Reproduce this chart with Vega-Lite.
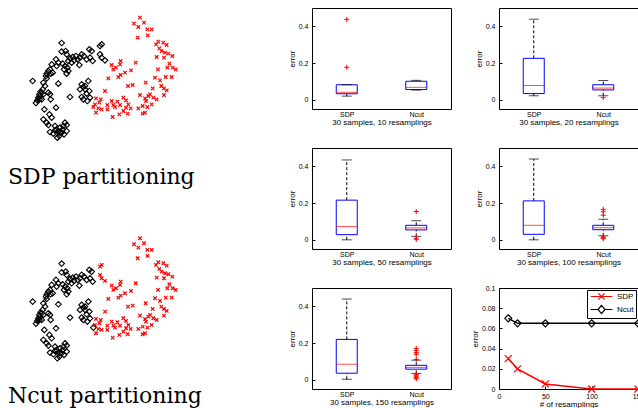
{
  "$schema": "https://vega.github.io/schema/vega-lite/v6.json",
  "padding": {"top": 7, "left": 0, "right": 0, "bottom": 0},
  "background": "white",
  "config": {
    "view": {"stroke": "black", "strokeWidth": 1},
    "axis": {"labelFont": "Liberation Sans", "titleFont": "Liberation Sans", "labelFontSize": 7, "titleFontSize": 8, "titleFontWeight": "normal", "labelColor": "black", "titleColor": "black", "domain": false, "grid": false, "tickColor": "black", "tickSize": -3, "labelPadding": 7, "titlePadding": 2, "labelFlush": false, "labelOverlap": false},
    "axisX": {"labelAngle": 0, "titlePadding": 1},
    "axisDiscrete": {"ticks": false, "labelPadding": 1}
  },
  "datasets": {
    "scatter": [
      {"x":185,"y":126,"sdp":"A","ncut":"A"},{"x":185,"y":152,"sdp":"A","ncut":"A"},{"x":197,"y":150,"sdp":"A","ncut":"A"},{"x":200,"y":160,"sdp":"A","ncut":"A"},{"x":210,"y":172,"sdp":"A","ncut":"A"},{"x":218,"y":168,"sdp":"A","ncut":"A"},{"x":222,"y":178,"sdp":"A","ncut":"A"},{"x":228,"y":165,"sdp":"A","ncut":"A"},{"x":233,"y":175,"sdp":"A","ncut":"A"},{"x":238,"y":192,"sdp":"A","ncut":"A"},{"x":245,"y":160,"sdp":"A","ncut":"A"},{"x":252,"y":165,"sdp":"A","ncut":"A"},{"x":260,"y":175,"sdp":"A","ncut":"A"},{"x":268,"y":145,"sdp":"A","ncut":"A"},{"x":275,"y":150,"sdp":"A","ncut":"A"},{"x":270,"y":170,"sdp":"A","ncut":"A"},{"x":278,"y":180,"sdp":"A","ncut":"A"},
      {"x":300,"y":135,"sdp":"A","ncut":"B"},{"x":305,"y":130,"sdp":"A","ncut":"B"},{"x":300,"y":160,"sdp":"A","ncut":"B"},{"x":305,"y":170,"sdp":"A","ncut":"B"},{"x":315,"y":178,"sdp":"A","ncut":"B"},
      {"x":188,"y":188,"sdp":"A","ncut":"A"},{"x":195,"y":195,"sdp":"A","ncut":"A"},{"x":192,"y":205,"sdp":"A","ncut":"A"},{"x":202,"y":200,"sdp":"A","ncut":"A"},{"x":205,"y":210,"sdp":"A","ncut":"A"},{"x":200,"y":218,"sdp":"A","ncut":"A"},{"x":175,"y":185,"sdp":"A","ncut":"A"},{"x":168,"y":175,"sdp":"A","ncut":"A"},{"x":170,"y":195,"sdp":"A","ncut":"A"},{"x":155,"y":190,"sdp":"A","ncut":"A"},{"x":150,"y":205,"sdp":"A","ncut":"A"},{"x":145,"y":210,"sdp":"A","ncut":"A"},{"x":140,"y":218,"sdp":"A","ncut":"A"},{"x":152,"y":218,"sdp":"A","ncut":"A"},{"x":158,"y":215,"sdp":"A","ncut":"A"},{"x":138,"y":225,"sdp":"A","ncut":"A"},
      {"x":98,"y":240,"sdp":"A","ncut":"A"},{"x":130,"y":245,"sdp":"A","ncut":"A"},{"x":135,"y":255,"sdp":"A","ncut":"A"},{"x":128,"y":265,"sdp":"A","ncut":"A"},{"x":122,"y":272,"sdp":"A","ncut":"A"},{"x":118,"y":280,"sdp":"A","ncut":"A"},{"x":115,"y":290,"sdp":"A","ncut":"A"},{"x":112,"y":298,"sdp":"A","ncut":"A"},{"x":108,"y":306,"sdp":"A","ncut":"A"},{"x":120,"y":285,"sdp":"A","ncut":"A"},{"x":125,"y":295,"sdp":"A","ncut":"A"},{"x":145,"y":275,"sdp":"A","ncut":"A"},{"x":150,"y":280,"sdp":"A","ncut":"A"},{"x":152,"y":295,"sdp":"A","ncut":"A"},{"x":175,"y":248,"sdp":"A","ncut":"A"},{"x":125,"y":275,"sdp":"A","ncut":"A"},{"x":130,"y":280,"sdp":"A","ncut":"A"},{"x":118,"y":295,"sdp":"A","ncut":"A"},{"x":140,"y":232,"sdp":"A","ncut":"A"},{"x":205,"y":180,"sdp":"A","ncut":"A"},{"x":215,"y":185,"sdp":"A","ncut":"A"},{"x":240,"y":170,"sdp":"A","ncut":"A"},
      {"x":245,"y":250,"sdp":"A","ncut":"A"},{"x":250,"y":258,"sdp":"A","ncut":"A"},{"x":255,"y":265,"sdp":"A","ncut":"A"},{"x":265,"y":240,"sdp":"A","ncut":"A"},{"x":268,"y":270,"sdp":"A","ncut":"A"},{"x":260,"y":278,"sdp":"A","ncut":"A"},{"x":245,"y":288,"sdp":"A","ncut":"A"},{"x":250,"y":295,"sdp":"A","ncut":"A"},{"x":262,"y":300,"sdp":"A","ncut":"A"},{"x":270,"y":290,"sdp":"A","ncut":"A"},{"x":210,"y":288,"sdp":"A","ncut":"A"},{"x":255,"y":255,"sdp":"A","ncut":"A"},{"x":240,"y":265,"sdp":"A","ncut":"A"},
      {"x":133,"y":325,"sdp":"A","ncut":"A"},{"x":168,"y":320,"sdp":"A","ncut":"A"},{"x":148,"y":340,"sdp":"A","ncut":"A"},{"x":155,"y":350,"sdp":"A","ncut":"A"},{"x":130,"y":355,"sdp":"A","ncut":"A"},{"x":140,"y":365,"sdp":"A","ncut":"A"},{"x":145,"y":372,"sdp":"A","ncut":"A"},{"x":165,"y":375,"sdp":"A","ncut":"A"},{"x":170,"y":385,"sdp":"A","ncut":"A"},{"x":175,"y":392,"sdp":"A","ncut":"A"},{"x":180,"y":380,"sdp":"A","ncut":"A"},{"x":190,"y":375,"sdp":"A","ncut":"A"},{"x":195,"y":365,"sdp":"A","ncut":"A"},{"x":200,"y":372,"sdp":"A","ncut":"A"},{"x":185,"y":395,"sdp":"A","ncut":"A"},{"x":178,"y":405,"sdp":"A","ncut":"A"},{"x":172,"y":410,"sdp":"A","ncut":"A"},{"x":150,"y":393,"sdp":"A","ncut":"A"},{"x":160,"y":398,"sdp":"A","ncut":"A"},{"x":192,"y":400,"sdp":"A","ncut":"A"},{"x":200,"y":390,"sdp":"A","ncut":"A"},{"x":180,"y":395,"sdp":"A","ncut":"A"},{"x":188,"y":385,"sdp":"A","ncut":"A"},{"x":165,"y":388,"sdp":"A","ncut":"A"},
      {"x":420,"y":50,"sdp":"B","ncut":"B"},{"x":402,"y":68,"sdp":"B","ncut":"B"},{"x":432,"y":65,"sdp":"B","ncut":"B"},{"x":415,"y":78,"sdp":"B","ncut":"B"},{"x":442,"y":85,"sdp":"B","ncut":"B"},{"x":455,"y":85,"sdp":"B","ncut":"B"},{"x":443,"y":103,"sdp":"B","ncut":"B"},{"x":413,"y":110,"sdp":"B","ncut":"B"},
      {"x":475,"y":122,"sdp":"B","ncut":"B"},{"x":468,"y":130,"sdp":"B","ncut":"B"},{"x":490,"y":125,"sdp":"B","ncut":"B"},{"x":500,"y":132,"sdp":"B","ncut":"B"},{"x":478,"y":142,"sdp":"B","ncut":"B"},{"x":485,"y":150,"sdp":"B","ncut":"B"},{"x":495,"y":155,"sdp":"B","ncut":"B"},{"x":505,"y":158,"sdp":"B","ncut":"B"},{"x":517,"y":165,"sdp":"B","ncut":"B"},{"x":470,"y":168,"sdp":"B","ncut":"B"},{"x":492,"y":170,"sdp":"B","ncut":"B"},{"x":508,"y":188,"sdp":"B","ncut":"B"},{"x":502,"y":200,"sdp":"B","ncut":"B"},{"x":518,"y":200,"sdp":"B","ncut":"B"},{"x":527,"y":205,"sdp":"B","ncut":"B"},{"x":474,"y":205,"sdp":"B","ncut":"B"},{"x":465,"y":230,"sdp":"B","ncut":"B"},{"x":480,"y":238,"sdp":"B","ncut":"B"},{"x":497,"y":228,"sdp":"B","ncut":"B"},{"x":515,"y":228,"sdp":"B","ncut":"B"},{"x":484,"y":255,"sdp":"B","ncut":"B"},{"x":492,"y":262,"sdp":"B","ncut":"B"},{"x":500,"y":268,"sdp":"B","ncut":"B"},{"x":458,"y":262,"sdp":"B","ncut":"B"},{"x":437,"y":245,"sdp":"B","ncut":"B"},
      {"x":407,"y":185,"sdp":"B","ncut":"B"},{"x":393,"y":208,"sdp":"B","ncut":"B"},{"x":375,"y":215,"sdp":"B","ncut":"B"},{"x":362,"y":222,"sdp":"B","ncut":"B"},{"x":355,"y":228,"sdp":"B","ncut":"B"},{"x":362,"y":180,"sdp":"B","ncut":"B"},{"x":360,"y":190,"sdp":"B","ncut":"B"},{"x":348,"y":200,"sdp":"B","ncut":"B"},{"x":340,"y":205,"sdp":"B","ncut":"B"},{"x":335,"y":192,"sdp":"B","ncut":"B"},{"x":325,"y":232,"sdp":"B","ncut":"B"},{"x":384,"y":255,"sdp":"B","ncut":"B"},{"x":398,"y":252,"sdp":"B","ncut":"B"},{"x":315,"y":270,"sdp":"B","ncut":"B"},
      {"x":288,"y":292,"sdp":"B","ncut":"B"},{"x":302,"y":295,"sdp":"B","ncut":"B"},{"x":298,"y":305,"sdp":"B","ncut":"B"},{"x":285,"y":310,"sdp":"B","ncut":"B"},{"x":295,"y":322,"sdp":"B","ncut":"B"},{"x":288,"y":335,"sdp":"B","ncut":"B"},{"x":305,"y":325,"sdp":"B","ncut":"B"},{"x":322,"y":325,"sdp":"B","ncut":"B"},{"x":322,"y":312,"sdp":"B","ncut":"B"},{"x":335,"y":300,"sdp":"B","ncut":"B"},{"x":340,"y":312,"sdp":"B","ncut":"B"},{"x":345,"y":318,"sdp":"B","ncut":"B"},{"x":352,"y":302,"sdp":"B","ncut":"B"},{"x":360,"y":312,"sdp":"B","ncut":"B"},{"x":370,"y":290,"sdp":"B","ncut":"B"},{"x":378,"y":298,"sdp":"B","ncut":"B"},{"x":385,"y":310,"sdp":"B","ncut":"B"},{"x":378,"y":320,"sdp":"B","ncut":"B"},{"x":392,"y":322,"sdp":"B","ncut":"B"},{"x":370,"y":330,"sdp":"B","ncut":"B"},{"x":358,"y":340,"sdp":"B","ncut":"B"},{"x":383,"y":338,"sdp":"B","ncut":"B"},{"x":338,"y":348,"sdp":"B","ncut":"B"},{"x":415,"y":322,"sdp":"B","ncut":"B"},{"x":428,"y":315,"sdp":"B","ncut":"B"},{"x":442,"y":318,"sdp":"B","ncut":"B"},{"x":435,"y":335,"sdp":"B","ncut":"B"},{"x":428,"y":338,"sdp":"B","ncut":"B"},{"x":420,"y":282,"sdp":"B","ncut":"B"},{"x":435,"y":292,"sdp":"B","ncut":"B"},{"x":438,"y":300,"sdp":"B","ncut":"B"},{"x":445,"y":285,"sdp":"B","ncut":"B"},{"x":450,"y":280,"sdp":"B","ncut":"B"},{"x":460,"y":290,"sdp":"B","ncut":"B"},{"x":470,"y":295,"sdp":"B","ncut":"B"},{"x":455,"y":310,"sdp":"B","ncut":"B"},{"x":492,"y":282,"sdp":"B","ncut":"B"},{"x":280,"y":318,"sdp":"B","ncut":"A"}
    ],
    "boxes": [
      {"panel":10,"method":"SDP","lo":0.02,"q1":0.033,"med":0.041,"q3":0.082,"hi":0.082},
      {"panel":10,"method":"Ncut","lo":0.053,"q1":0.056,"med":0.068,"q3":0.101,"hi":0.106},
      {"panel":20,"method":"SDP","lo":0.022,"q1":0.034,"med":0.078,"q3":0.226,"hi":0.439},
      {"panel":20,"method":"Ncut","lo":0.022,"q1":0.054,"med":0.064,"q3":0.082,"hi":0.105},
      {"panel":50,"method":"SDP","lo":0.0,"q1":0.028,"med":0.072,"q3":0.216,"hi":0.435},
      {"panel":50,"method":"Ncut","lo":0.019,"q1":0.054,"med":0.065,"q3":0.079,"hi":0.104},
      {"panel":100,"method":"SDP","lo":0.0,"q1":0.03,"med":0.079,"q3":0.212,"hi":0.44},
      {"panel":100,"method":"Ncut","lo":0.022,"q1":0.055,"med":0.066,"q3":0.079,"hi":0.112},
      {"panel":150,"method":"SDP","lo":0.003,"q1":0.036,"med":0.085,"q3":0.22,"hi":0.44},
      {"panel":150,"method":"Ncut","lo":0.035,"q1":0.058,"med":0.068,"q3":0.079,"hi":0.107}
    ],
    "outliers": [
      {"panel":10,"method":"SDP","v":0.177},{"panel":10,"method":"SDP","v":0.438},
      {"panel":20,"method":"Ncut","v":0.012},
      {"panel":50,"method":"Ncut","v":0.154},{"panel":50,"method":"Ncut","v":0.009},{"panel":50,"method":"Ncut","v":0.003},
      {"panel":100,"method":"Ncut","v":0.166},{"panel":100,"method":"Ncut","v":0.153},{"panel":100,"method":"Ncut","v":0.134},{"panel":100,"method":"Ncut","v":0.016},{"panel":100,"method":"Ncut","v":0.011},{"panel":100,"method":"Ncut","v":0.006},
      {"panel":150,"method":"Ncut","v":0.171},{"panel":150,"method":"Ncut","v":0.16},{"panel":150,"method":"Ncut","v":0.149},{"panel":150,"method":"Ncut","v":0.139},{"panel":150,"method":"Ncut","v":0.111},{"panel":150,"method":"Ncut","v":0.028},{"panel":150,"method":"Ncut","v":0.022},{"panel":150,"method":"Ncut","v":0.016},{"panel":150,"method":"Ncut","v":0.011},{"panel":150,"method":"Ncut","v":0.006}
    ],
    "lines": [
      {"n":10,"series":"SDP","err":0.03},{"n":20,"series":"SDP","err":0.02},{"n":50,"series":"SDP","err":0.005},{"n":100,"series":"SDP","err":0.0},{"n":150,"series":"SDP","err":0.0},
      {"n":10,"series":"Ncut","err":0.07},{"n":20,"series":"Ncut","err":0.065},{"n":50,"series":"Ncut","err":0.065},{"n":100,"series":"Ncut","err":0.065},{"n":150,"series":"Ncut","err":0.065}
    ]
  },
  "spacing": 57,
  "hconcat": [
    {
      "spacing": 13,
      "vconcat": [
        {
          "width": 230, "height": 150,
          "view": {"stroke": null},
          "title": {"text": "SDP partitioning", "orient": "bottom", "anchor": "start", "dx": 8, "offset": 9, "font": "DejaVu Serif", "fontSize": 22, "fontWeight": "normal", "color": "black"},
          "data": {"name": "scatter"},
          "encoding": {
            "x": {"field": "x", "type": "quantitative", "scale": {"domain": [0, 690]}, "axis": null},
            "y": {"field": "y", "type": "quantitative", "scale": {"domain": [471, 21]}, "axis": null}
          },
          "layer": [
            {"transform": [{"filter": "datum.sdp == 'A'"}], "mark": {"type": "point", "shape": "diamond", "filled": false, "size": 32, "color": "black", "strokeWidth": 1.1, "opacity": 1}},
            {"transform": [{"filter": "datum.sdp == 'B'"}], "mark": {"type": "point", "shape": "M-1,-1L1,1M-1,1L1,-1", "filled": false, "size": 12, "color": "red", "strokeWidth": 1.2, "opacity": 1}}
          ]
        },
        {
          "width": 230, "height": 170,
          "view": {"stroke": null},
          "title": {"text": "Ncut partitioning", "orient": "bottom", "anchor": "start", "dx": 8, "offset": 15, "font": "DejaVu Serif", "fontSize": 22, "fontWeight": "normal", "color": "black"},
          "data": {"name": "scatter"},
          "encoding": {
            "x": {"field": "x", "type": "quantitative", "scale": {"domain": [0, 690]}, "axis": null},
            "y": {"field": "y", "type": "quantitative", "scale": {"domain": [448.2, -61.8]}, "axis": null}
          },
          "layer": [
            {"transform": [{"filter": "datum.ncut == 'A'"}], "mark": {"type": "point", "shape": "diamond", "filled": false, "size": 32, "color": "black", "strokeWidth": 1.1, "opacity": 1}},
            {"transform": [{"filter": "datum.ncut == 'B'"}], "mark": {"type": "point", "shape": "M-1,-1L1,1M-1,1L1,-1", "filled": false, "size": 12, "color": "red", "strokeWidth": 1.2, "opacity": 1}}
          ]
        }
      ]
    },
    {
      "spacing": 20,
      "vconcat": [
        {
          "spacing": 22,
          "hconcat": [
            {
              "width": 139, "height": 101,
              "data": {"name": "boxes"},
              "transform": [{"filter": "datum.panel == 10"}],
              "encoding": {"x": {"field": "method", "type": "nominal", "scale": {"type": "point", "domain": ["SDP", "Ncut"], "padding": 0.5}, "axis": {"title": "30 samples, 10 resamplings"}}},
              "layer": [
                {"mark": {"type": "rule", "strokeDash": [3, 2], "color": "black"}, "encoding": {"y": {"field": "lo", "type": "quantitative", "scale": {"domain": [-0.003, 0.463]}, "axis": {"title": "error", "values": [0, 0.1, 0.2, 0.3, 0.4], "format": "~g"}}, "y2": {"field": "q1"}}},
                {"mark": {"type": "rule", "strokeDash": [3, 2], "color": "black"}, "encoding": {"y": {"field": "q3", "type": "quantitative"}, "y2": {"field": "hi"}}},
                {"mark": {"type": "bar", "size": 21, "fill": "white", "stroke": "blue", "strokeWidth": 1}, "encoding": {"y": {"field": "q1", "type": "quantitative"}, "y2": {"field": "q3"}}},
                {"mark": {"type": "tick", "size": 21, "thickness": 1, "color": "red"}, "encoding": {"y": {"field": "med", "type": "quantitative"}}},
                {"mark": {"type": "tick", "size": 10, "thickness": 1, "color": "black"}, "encoding": {"y": {"field": "lo", "type": "quantitative"}}},
                {"mark": {"type": "tick", "size": 10, "thickness": 1, "color": "black"}, "encoding": {"y": {"field": "hi", "type": "quantitative"}}},
                {"data": {"name": "outliers"}, "transform": [{"filter": "datum.panel == 10"}], "mark": {"type": "point", "shape": "M-1,0L1,0M0,-1L0,1", "size": 25, "color": "red", "filled": false, "strokeWidth": 1, "opacity": 1}, "encoding": {"y": {"field": "v", "type": "quantitative"}}}
              ]
            },
            {
              "width": 139, "height": 101,
              "data": {"name": "boxes"},
              "transform": [{"filter": "datum.panel == 20"}],
              "encoding": {"x": {"field": "method", "type": "nominal", "scale": {"type": "point", "domain": ["SDP", "Ncut"], "padding": 0.5}, "axis": {"title": "30 samples, 20 resamplings"}}},
              "layer": [
                {"mark": {"type": "rule", "strokeDash": [3, 2], "color": "black"}, "encoding": {"y": {"field": "lo", "type": "quantitative", "scale": {"domain": [-0.006, 0.465]}, "axis": {"title": "error", "values": [0, 0.1, 0.2, 0.3, 0.4], "format": "~g"}}, "y2": {"field": "q1"}}},
                {"mark": {"type": "rule", "strokeDash": [3, 2], "color": "black"}, "encoding": {"y": {"field": "q3", "type": "quantitative"}, "y2": {"field": "hi"}}},
                {"mark": {"type": "bar", "size": 21, "fill": "white", "stroke": "blue", "strokeWidth": 1}, "encoding": {"y": {"field": "q1", "type": "quantitative"}, "y2": {"field": "q3"}}},
                {"mark": {"type": "tick", "size": 21, "thickness": 1, "color": "red"}, "encoding": {"y": {"field": "med", "type": "quantitative"}}},
                {"mark": {"type": "tick", "size": 10, "thickness": 1, "color": "black"}, "encoding": {"y": {"field": "lo", "type": "quantitative"}}},
                {"mark": {"type": "tick", "size": 10, "thickness": 1, "color": "black"}, "encoding": {"y": {"field": "hi", "type": "quantitative"}}},
                {"data": {"name": "outliers"}, "transform": [{"filter": "datum.panel == 20"}], "mark": {"type": "point", "shape": "M-1,0L1,0M0,-1L0,1", "size": 25, "color": "red", "filled": false, "strokeWidth": 1, "opacity": 1}, "encoding": {"y": {"field": "v", "type": "quantitative"}}}
              ]
            }
          ]
        },
        {
          "spacing": 16,
          "vconcat": [
            {
              "spacing": 22,
              "hconcat": [
                {
                  "width": 139, "height": 101,
                  "data": {"name": "boxes"},
                  "transform": [{"filter": "datum.panel == 50"}],
                  "encoding": {"x": {"field": "method", "type": "nominal", "scale": {"type": "point", "domain": ["SDP", "Ncut"], "padding": 0.5}, "axis": {"title": "30 samples, 50 resamplings"}}},
                  "layer": [
                    {"mark": {"type": "rule", "strokeDash": [3, 2], "color": "black"}, "encoding": {"y": {"field": "lo", "type": "quantitative", "scale": {"domain": [-0.016, 0.456]}, "axis": {"title": "error", "values": [0, 0.1, 0.2, 0.3, 0.4], "format": "~g"}}, "y2": {"field": "q1"}}},
                    {"mark": {"type": "rule", "strokeDash": [3, 2], "color": "black"}, "encoding": {"y": {"field": "q3", "type": "quantitative"}, "y2": {"field": "hi"}}},
                    {"mark": {"type": "bar", "size": 21, "fill": "white", "stroke": "blue", "strokeWidth": 1}, "encoding": {"y": {"field": "q1", "type": "quantitative"}, "y2": {"field": "q3"}}},
                    {"mark": {"type": "tick", "size": 21, "thickness": 1, "color": "red"}, "encoding": {"y": {"field": "med", "type": "quantitative"}}},
                    {"mark": {"type": "tick", "size": 10, "thickness": 1, "color": "black"}, "encoding": {"y": {"field": "lo", "type": "quantitative"}}},
                    {"mark": {"type": "tick", "size": 10, "thickness": 1, "color": "black"}, "encoding": {"y": {"field": "hi", "type": "quantitative"}}},
                    {"data": {"name": "outliers"}, "transform": [{"filter": "datum.panel == 50"}], "mark": {"type": "point", "shape": "M-1,0L1,0M0,-1L0,1", "size": 25, "color": "red", "filled": false, "strokeWidth": 1, "opacity": 1}, "encoding": {"y": {"field": "v", "type": "quantitative"}}}
                  ]
                },
                {
                  "width": 139, "height": 101,
                  "data": {"name": "boxes"},
                  "transform": [{"filter": "datum.panel == 100"}],
                  "encoding": {"x": {"field": "method", "type": "nominal", "scale": {"type": "point", "domain": ["SDP", "Ncut"], "padding": 0.5}, "axis": {"title": "30 samples, 100 resamplings"}}},
                  "layer": [
                    {"mark": {"type": "rule", "strokeDash": [3, 2], "color": "black"}, "encoding": {"y": {"field": "lo", "type": "quantitative", "scale": {"domain": [-0.011, 0.466]}, "axis": {"title": "error", "values": [0, 0.1, 0.2, 0.3, 0.4], "format": "~g"}}, "y2": {"field": "q1"}}},
                    {"mark": {"type": "rule", "strokeDash": [3, 2], "color": "black"}, "encoding": {"y": {"field": "q3", "type": "quantitative"}, "y2": {"field": "hi"}}},
                    {"mark": {"type": "bar", "size": 21, "fill": "white", "stroke": "blue", "strokeWidth": 1}, "encoding": {"y": {"field": "q1", "type": "quantitative"}, "y2": {"field": "q3"}}},
                    {"mark": {"type": "tick", "size": 21, "thickness": 1, "color": "red"}, "encoding": {"y": {"field": "med", "type": "quantitative"}}},
                    {"mark": {"type": "tick", "size": 10, "thickness": 1, "color": "black"}, "encoding": {"y": {"field": "lo", "type": "quantitative"}}},
                    {"mark": {"type": "tick", "size": 10, "thickness": 1, "color": "black"}, "encoding": {"y": {"field": "hi", "type": "quantitative"}}},
                    {"data": {"name": "outliers"}, "transform": [{"filter": "datum.panel == 100"}], "mark": {"type": "point", "shape": "M-1,0L1,0M0,-1L0,1", "size": 25, "color": "red", "filled": false, "strokeWidth": 1, "opacity": 1}, "encoding": {"y": {"field": "v", "type": "quantitative"}}}
                  ]
                }
              ]
            },
            {
              "spacing": 18,
              "hconcat": [
                {
                  "width": 139, "height": 101,
                  "data": {"name": "boxes"},
                  "transform": [{"filter": "datum.panel == 150"}],
                  "encoding": {"x": {"field": "method", "type": "nominal", "scale": {"type": "point", "domain": ["SDP", "Ncut"], "padding": 0.5}, "axis": {"title": "30 samples, 150 resamplings"}}},
                  "layer": [
                    {"mark": {"type": "rule", "strokeDash": [3, 2], "color": "black"}, "encoding": {"y": {"field": "lo", "type": "quantitative", "scale": {"domain": [-0.016, 0.462]}, "axis": {"title": "error", "values": [0, 0.1, 0.2, 0.3, 0.4], "format": "~g"}}, "y2": {"field": "q1"}}},
                    {"mark": {"type": "rule", "strokeDash": [3, 2], "color": "black"}, "encoding": {"y": {"field": "q3", "type": "quantitative"}, "y2": {"field": "hi"}}},
                    {"mark": {"type": "bar", "size": 21, "fill": "white", "stroke": "blue", "strokeWidth": 1}, "encoding": {"y": {"field": "q1", "type": "quantitative"}, "y2": {"field": "q3"}}},
                    {"mark": {"type": "tick", "size": 21, "thickness": 1, "color": "red"}, "encoding": {"y": {"field": "med", "type": "quantitative"}}},
                    {"mark": {"type": "tick", "size": 10, "thickness": 1, "color": "black"}, "encoding": {"y": {"field": "lo", "type": "quantitative"}}},
                    {"mark": {"type": "tick", "size": 10, "thickness": 1, "color": "black"}, "encoding": {"y": {"field": "hi", "type": "quantitative"}}},
                    {"data": {"name": "outliers"}, "transform": [{"filter": "datum.panel == 150"}], "mark": {"type": "point", "shape": "M-1,0L1,0M0,-1L0,1", "size": 25, "color": "red", "filled": false, "strokeWidth": 1, "opacity": 1}, "encoding": {"y": {"field": "v", "type": "quantitative"}}}
                  ]
                },
                {
                  "width": 139, "height": 101,
                  "data": {"name": "lines"},
                  "encoding": {
                    "x": {"field": "n", "type": "quantitative", "scale": {"domain": [0, 150]}, "axis": {"title": "# of resamplings", "values": [0, 50, 100, 150], "labelPadding": 6}},
                    "y": {"field": "err", "type": "quantitative", "scale": {"domain": [0, 0.1]}, "axis": {"title": "error", "values": [0, 0.02, 0.04, 0.06, 0.08, 0.1], "format": "~g"}}
                  },
                  "layer": [
                    {"mark": {"type": "line", "strokeWidth": 1.5}, "encoding": {"color": {"field": "series", "type": "nominal", "scale": {"domain": ["SDP", "Ncut"], "range": ["#ff0000", "#000000"]}, "legend": null}}},
                    {"mark": {"type": "point", "filled": false, "size": 49, "strokeWidth": 1.2, "opacity": 1},
                     "encoding": {
                       "color": {"field": "series", "type": "nominal", "scale": {"domain": ["SDP", "Ncut"], "range": ["#ff0000", "#000000"]}, "legend": null},
                       "shape": {"field": "series", "type": "nominal", "scale": {"domain": ["SDP", "Ncut"], "range": ["M-1,-1L1,1M-1,1L1,-1", "diamond"]}, "legend": null}
                     }},
                    {"mark": {"type": "point", "filled": false, "size": 49, "strokeWidth": 1.2, "opacity": 0},
                     "encoding": {
                       "color": {"field": "series", "type": "nominal", "scale": {"domain": ["SDP", "Ncut"], "range": ["#ff0000", "#000000"]},
                         "legend": {"title": null, "orient": "top-right", "offset": 2, "strokeColor": "black", "fillColor": "white", "padding": 2, "labelFont": "Liberation Sans", "labelFontSize": 8, "labelColor": "black", "symbolSize": 49, "symbolStrokeWidth": 1.2, "symbolOpacity": 1, "rowPadding": 0, "labelOffset": 11, "symbolOffset": 8, "cornerRadius": 0}},
                       "shape": {"field": "series", "type": "nominal", "scale": {"domain": ["SDP", "Ncut"], "range": ["M-3.1,0L3.1,0M-0.9,-0.9L0.9,0.9M-0.9,0.9L0.9,-0.9", "M-3.1,0L-1,0M1,0L3.1,0M-1,0L0,-1.15L1,0L0,1.15Z"]},
                         "legend": {"title": null, "orient": "top-right", "offset": 2, "strokeColor": "black", "fillColor": "white", "padding": 2, "labelFont": "Liberation Sans", "labelFontSize": 8, "labelColor": "black", "symbolSize": 49, "symbolStrokeWidth": 1.2, "symbolOpacity": 1, "rowPadding": 0, "labelOffset": 11, "symbolOffset": 8, "cornerRadius": 0}}
                     }}
                  ],
                  "resolve": {"scale": {"color": "independent", "shape": "independent"}}
                }
              ]
            }
          ]
        }
      ]
    }
  ]
}
